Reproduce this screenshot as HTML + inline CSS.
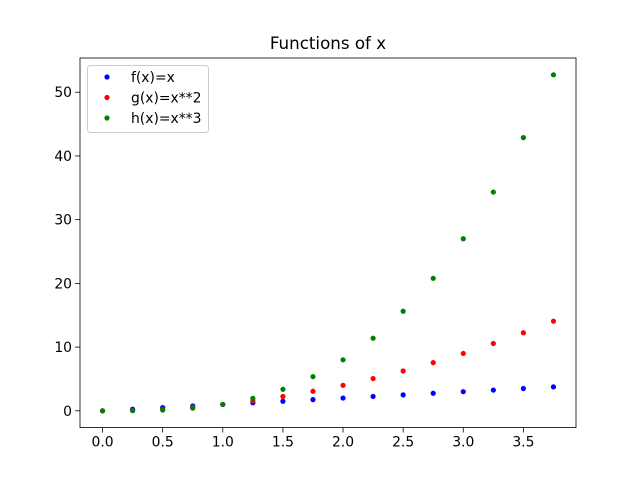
<!DOCTYPE html>
<html><head><meta charset="utf-8"><style>
body{margin:0;background:#fff}
svg{display:block;font-family:"DejaVu Sans","Liberation Sans",sans-serif}
</style></head><body>
<svg id="chart" width="640" height="480" viewBox="0 0 640 480" xmlns="http://www.w3.org/2000/svg">
<rect width="640" height="480" fill="#fff"/>
<text x="328" y="49" font-size="16.7" text-anchor="middle">Functions of x</text>
<g id="plot"></g>
</svg>
<script>
const xs = [0,0.25,0.5,0.75,1,1.25,1.5,1.75,2,2.25,2.5,2.75,3,3.25,3.5,3.75];
const fVals = [0,0.25,0.5,0.75,1,1.25,1.5,1.75,2,2.25,2.5,2.75,3,3.25,3.5,3.75];
const gVals = [0,0.0625,0.25,0.5625,1,1.5625,2.25,3.0625,4,5.0625,6.25,7.5625,9,10.5625,12.25,14.0625];
const hVals = [0,0.015625,0.125,0.421875,1,1.953125,3.375,5.359375,8,11.390625,15.625,20.796875,27,34.328125,42.875,52.734375];
const xTicks = [0,0.5,1,1.5,2,2.5,3,3.5];
const xTickLabels = ["0.0","0.5","1.0","1.5","2.0","2.5","3.0","3.5"];
const yTicks = [0,10,20,30,40,50];
const yTickLabels = ["0","10","20","30","40","50"];
const seriesNames = ["f(x)=x","g(x)=x**2","h(x)=x**3"];
const seriesColors = ["#0000ff","#ff0000","#008000"];

const L=80,R=576,T=58,B=427.6;
const xmin=-0.1875,xmax=3.9375;
const ymax0=Math.max(...hVals),ymin0=0;
const ymin=ymin0-(ymax0-ymin0)*0.05,ymax=ymax0+(ymax0-ymin0)*0.05;
const sx=v=>L+(v-xmin)/(xmax-xmin)*(R-L);
const sy=v=>B-(v-ymin)/(ymax-ymin)*(B-T);
const NS="http://www.w3.org/2000/svg";
const g=document.getElementById('plot');
function mk(tag,attrs,parent){const e=document.createElementNS(NS,tag);for(const k in attrs)e.setAttribute(k,attrs[k]);(parent||g).appendChild(e);return e;}

xTicks.forEach((t,i)=>{
  const x=sx(t);
  const tk=mk('line',{x1:x,x2:x,y1:B,y2:B+4.9,stroke:'#000','stroke-width':0.8});
  
  
  const lb=mk('text',{x:x,y:B+19,'font-size':13.9,'text-anchor':'middle'});
  lb.textContent=xTickLabels[i];
  
  
});
yTicks.forEach((t,i)=>{
  const y=sy(t);
  const tk=mk('line',{x1:L-4.9,x2:L,y1:y,y2:y,stroke:'#000','stroke-width':0.8});
  
  
  const lb=mk('text',{x:L-8,y:y+5,'font-size':13.9,'text-anchor':'end'});
  lb.textContent=yTickLabels[i];
  
  
});
[fVals,gVals,hVals].forEach((vals,si)=>{
  vals.forEach((v,i)=>{
    const c=mk('circle',{cx:sx(xs[i]),cy:sy(v),r:2.6,fill:seriesColors[si]});
    
    
  });
});
const frame=mk('rect',{x:L,y:T,width:R-L,height:B-T,fill:'none',stroke:'#000','stroke-width':0.8});



const leg=mk('g',{});


mk('rect',{x:87.5,y:65.5,width:121,height:67,rx:3,fill:'#fff','fill-opacity':0.8,stroke:'#ccc','stroke-width':1},leg);
seriesNames.forEach((n,i)=>{
  const y=77+i*20.5;
  const e=mk('g',{},leg);
  
  
  mk('circle',{cx:107,cy:y,r:2.6,fill:seriesColors[i]},e);
  const t=mk('text',{x:131,y:y+5,'font-size':13.9},e);
  t.textContent=n;
});
</script>
</body></html>
